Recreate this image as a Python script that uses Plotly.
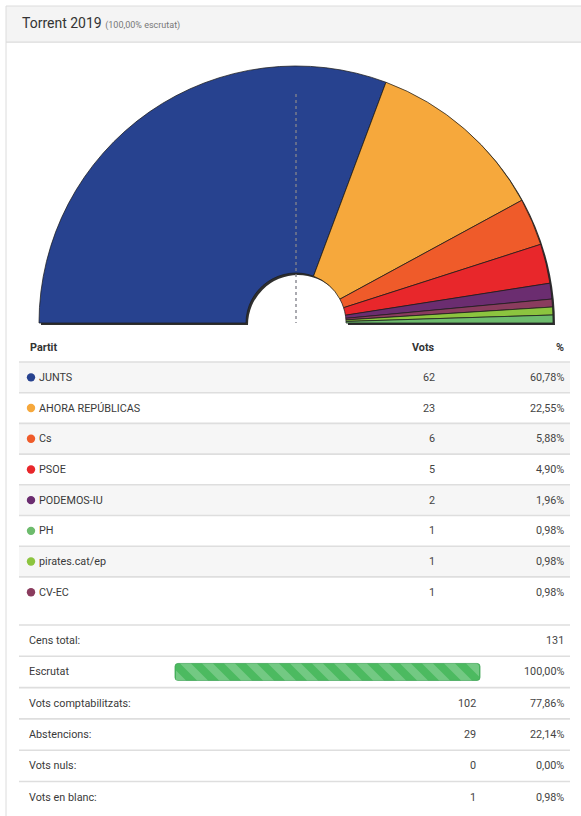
import plotly.graph_objects as go

# ---------------- data ----------------
parties = ["JUNTS", "AHORA REPÚBLICAS", "Cs", "PSOE", "PODEMOS-IU", "PH", "pirates.cat/ep", "CV-EC"]
votes = [62, 23, 6, 5, 2, 1, 1, 1]
pct_labels = ["60,78%", "22,55%", "5,88%", "4,90%", "1,96%", "0,98%", "0,98%", "0,98%"]
party_colors = ["#27428f", "#f6a83c", "#ef5b2a", "#e8272b", "#6b2d70", "#6dbb6d", "#8cc43f", "#8a3c5e"]
pie_order = ["JUNTS", "AHORA REPÚBLICAS", "Cs", "PSOE", "PODEMOS-IU", "CV-EC", "pirates.cat/ep", "PH"]

summary_labels = ["Cens total:", "Escrutat", "Vots comptabilitzats:", "Abstencions:", "Vots nuls:", "Vots en blanc:"]
summary_values = ["131", "", "102", "29", "0", "1"]
summary_pct = ["", "100,00%", "77,86%", "22,14%", "0,00%", "0,98%"]
escrutat_pct = 100.0

title_main = "Torrent 2019"
title_sub = "(100,00% escrutat)"
col_headers = ["Partit", "Vots", "%"]

# ---------------- geometry helpers ----------------
W, H = 581, 816
FONT = "Roboto, Liberation Sans, Arial, sans-serif"
FS = 10.8


def X(px):
    return px / W


def Y(py):
    return 1 - py / H


shapes = []
annotations = []


def txt(x, y, text, anchor="left", size=FS, color="#3a3a3a"):
    annotations.append(dict(xref="paper", yref="paper", x=X(x), y=Y(y), xanchor=anchor, yanchor="middle",
                            showarrow=False, text=text, font=dict(family=FONT, size=size, color=color)))


# card frame + header band
shapes.append(dict(type="rect", xref="paper", yref="paper", x0=X(6), x1=X(590), y0=Y(820), y1=Y(42),
                   line=dict(color="#dcdcdc", width=1), fillcolor="white", layer="below"))
shapes.append(dict(type="rect", xref="paper", yref="paper", x0=X(6), x1=X(590), y0=Y(42), y1=Y(6),
                   line=dict(color="#dcdcdc", width=1), fillcolor="#f4f4f4", layer="below"))
txt(20, 23, f"{title_main} <span style='font-size:9px;color:#777'>{title_sub}</span>", size=14, color="#333")

# ---------------- hemicycle (pie with hidden lower half) ----------------
cx, cy, R = 296, 323, 257
hole = 50 / R
idx = [parties.index(p) for p in pie_order]
pv = [votes[i] for i in idx]
pc = [party_colors[i] for i in idx]
total = sum(pv)

fig = go.Figure()
sh = 2
fig.add_trace(go.Pie(
    values=[total, total], labels=["s1", "s2"], sort=False, direction="clockwise", rotation=270,
    hole=hole, textinfo="none", hoverinfo="skip", showlegend=False,
    marker=dict(colors=["rgba(10,10,10,0.85)", "rgba(0,0,0,0)"], line=dict(width=0)),
    domain=dict(x=[X(cx - R + sh), X(cx + R + sh)], y=[Y(cy + R + sh), Y(cy - R + sh)]),
))
fig.add_trace(go.Pie(
    values=pv + [total], labels=pie_order + [""], sort=False, direction="clockwise", rotation=270,
    hole=hole, textinfo="none", hoverinfo="skip", showlegend=False,
    marker=dict(colors=pc + ["rgba(0,0,0,0)"],
                line=dict(color=["rgba(30,30,30,0.75)"] * len(pv) + ["rgba(0,0,0,0)"],
                          width=[1.0] * len(pv) + [0])),
    domain=dict(x=[X(cx - R), X(cx + R)], y=[Y(cy + R), Y(cy - R)]),
))

# dotted majority line
shapes.append(dict(type="line", xref="paper", yref="paper", x0=X(cx), x1=X(cx), y0=Y(94), y1=Y(cy),
                   line=dict(color="rgba(130,130,140,0.9)", width=1.5, dash="dot"), layer="above"))

# ---------------- party table ----------------
LX0, LX1 = 19, 570
VOTS_X, PCT_X = 437, 566
header_y = 347
row_top = 362
row_h = 30.7

txt(28, header_y, f"<b>{col_headers[0]}</b>", color="#333")
txt(VOTS_X, header_y, f"<b>{col_headers[1]}</b>", anchor="right", color="#333")
txt(PCT_X, header_y, f"<b>{col_headers[2]}</b>", anchor="right", color="#333")

for i, (name, v, pct, col) in enumerate(zip(parties, votes, pct_labels, party_colors)):
    top = row_top + i * row_h
    bot = top + row_h
    mid = (top + bot) / 2
    if i % 2 == 0:
        shapes.append(dict(type="rect", xref="paper", yref="paper", x0=X(LX0), x1=X(LX1), y0=Y(bot), y1=Y(top),
                           line=dict(width=0), fillcolor="#f6f6f6", layer="below"))
    shapes.append(dict(type="line", xref="paper", yref="paper", x0=X(LX0), x1=X(LX1), y0=Y(top), y1=Y(top),
                       line=dict(color="#dedede", width=1.6), layer="below"))
    r = 4.2
    shapes.append(dict(type="circle", xref="paper", yref="paper", x0=X(31 - r), x1=X(31 + r),
                       y0=Y(mid + r), y1=Y(mid - r), line=dict(width=0), fillcolor=col, layer="above"))
    txt(37, mid, name)
    txt(VOTS_X, mid, str(v), anchor="right", color="#444")
    txt(PCT_X, mid, pct, anchor="right", color="#444")

# ---------------- summary table ----------------
sum_top = 625
sum_h = 31.3
SV_X = 478
for i, (lab, val, pct) in enumerate(zip(summary_labels, summary_values, summary_pct)):
    top = sum_top + i * sum_h
    mid = top + sum_h / 2
    shapes.append(dict(type="line", xref="paper", yref="paper", x0=X(LX0), x1=X(LX1), y0=Y(top), y1=Y(top),
                       line=dict(color="#dedede", width=1.6), layer="below"))
    txt(27, mid, lab)
    if val:
        # the census row carries its number in the last column
        txt(PCT_X if not pct else SV_X, mid, val, anchor="right", color="#444")
    if pct:
        txt(PCT_X, mid, pct, anchor="right", color="#444")
    if lab == "Escrutat":
        bx0, bx1full = 175, 480
        bt, bb = mid - 8.5, mid + 8.5
        bx1 = bx0 + (bx1full - bx0) * escrutat_pct / 100.0
        rr = 3
        path = (f"M {X(bx0 + rr)},{Y(bt)} L {X(bx1 - rr)},{Y(bt)} Q {X(bx1)},{Y(bt)} {X(bx1)},{Y(bt + rr)} "
                f"L {X(bx1)},{Y(bb - rr)} Q {X(bx1)},{Y(bb)} {X(bx1 - rr)},{Y(bb)} "
                f"L {X(bx0 + rr)},{Y(bb)} Q {X(bx0)},{Y(bb)} {X(bx0)},{Y(bb - rr)} "
                f"L {X(bx0)},{Y(bt + rr)} Q {X(bx0)},{Y(bt)} {X(bx0 + rr)},{Y(bt)} Z")
        shapes.append(dict(type="path", xref="paper", yref="paper", path=path,
                           fillcolor="#4cba60", line=dict(color="#3fa555", width=0.8), layer="above"))
        hgt = bb - bt
        period, sw = 22, 11

        def clip(poly, xmin, xmax):
            def clip_side(pts, keep, xb):
                out = []
                n = len(pts)
                for k in range(n):
                    p, q = pts[k], pts[(k + 1) % n]
                    pin, qin = keep(p[0]), keep(q[0])
                    if pin:
                        out.append(p)
                    if pin != qin:
                        t = (xb - p[0]) / (q[0] - p[0])
                        out.append((xb, p[1] + t * (q[1] - p[1])))
                return out
            pts = clip_side(poly, lambda x: x >= xmin, xmin)
            if pts:
                pts = clip_side(pts, lambda x: x <= xmax, xmax)
            return pts

        s = bx0 - hgt - period
        while s < bx1:
            poly = [(s, bt), (s + sw, bt), (s + sw + hgt, bb), (s + hgt, bb)]
            pts = clip(poly, bx0 + 1, bx1 - 1)
            if len(pts) >= 3:
                p = "M " + " L ".join(f"{X(a)},{Y(b)}" for a, b in pts) + " Z"
                shapes.append(dict(type="path", xref="paper", yref="paper", path=p,
                                   fillcolor="rgba(255,255,255,0.22)", line=dict(width=0), layer="above"))
            s += period

fig.update_layout(
    width=W, height=H, margin=dict(l=0, r=0, t=0, b=0),
    paper_bgcolor="white", plot_bgcolor="white",
    shapes=shapes, annotations=annotations, showlegend=False,
    font=dict(family=FONT),
)

fig.write_html("out.html", config={"displayModeBar": False},
               post_script="document.body.style.margin='0';document.body.style.overflow='hidden';")
